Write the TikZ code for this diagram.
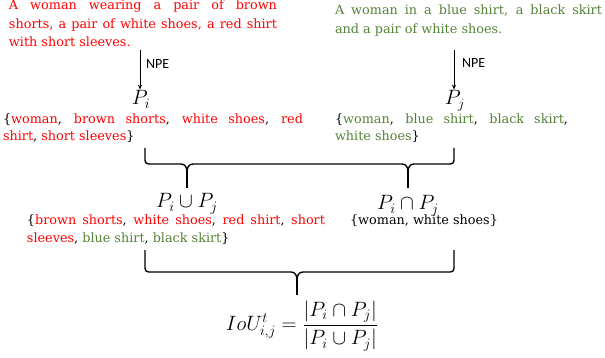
\documentclass[tikz,border=0pt]{standalone}
\usepackage{fontspec}
\setmainfont{DejaVu Serif}
\newfontfamily\npefont{Carlito}
\usetikzlibrary{arrows.meta}
\definecolor{capred}{RGB}{255,0,0}
\definecolor{capgreen}{RGB}{84,130,53}
\newcommand{\rd}[1]{\textcolor{capred}{#1}}
\newcommand{\gn}[1]{\textcolor{capgreen}{#1}}
\tikzset{
  txt/.style={inner sep=0pt, outer sep=0pt, font=\fontsize{12.8}{18.2}\selectfont},
  jtxt/.style={txt, align=justify, anchor=base west},
  settxt/.style={jtxt, font=\fontsize{12.8}{17.6}\selectfont},
  plabel/.style={inner sep=1pt, anchor=base, font=\fontsize{20}{24}\selectfont},
  npe/.style={inner sep=0pt, anchor=base west, font=\npefont\fontsize{14}{16}\selectfont},
  arr/.style={line width=0.9pt, -{Stealth[length=5pt,width=4pt]}},
  bracestroke/.style={line width=1.4pt, line cap=butt}
}
\begin{document}
\begin{tikzpicture}[x=1pt,y=-1pt]
\useasboundingbox (0,0) rectangle (605,358);

% captions
\node[jtxt, text width=268pt, text=capred] (capi) at (9,10)
  {A woman wearing a pair of brown\linebreak shorts, a pair of white shoes, a red shirt\linebreak with short sleeves.};
\node[jtxt, text width=267pt, text=capgreen] (capj) at (335,15)
  {A woman in a blue shirt, a black skirt\linebreak and a pair of white shoes.};

% P labels
\node[plabel] (pi) at (141,105) {$P_i$};
\node[plabel] (pj) at (455,105) {$P_j$};

% arrows
\coordinate (ai) at (140,50);
\coordinate (aj) at (454,50);
\draw[arr] (ai) -- (ai |- pi.north);
\draw[arr] (aj) -- (aj |- pj.north);
\node[npe] (npei) at (146,69) {NPE};
\node[npe] (npej) at (462,68) {NPE};

% sets
\node[settxt, text width=300pt] (seti) at (3,123.3)
  {\{\rd{woman}, \rd{brown shorts}, \rd{white shoes}, \rd{red}\linebreak \rd{shirt}, \rd{short sleeves}\}};
\node[settxt, text width=233pt] (setj) at (335,123.3)
  {\{\gn{woman}, \gn{blue shirt}, \gn{black skirt},\linebreak \gn{white shoes}\}};

% first brace
\coordinate (b1l) at (145,148);
\coordinate (b1r) at (454,148);
\coordinate (t1u) at (187,188);
\coordinate (t1n) at (408,188);
\draw[bracestroke] (b1l) -- (145,160.5) to[out=-90,in=180] (148.5,164) -- (181,164)
   .. controls (185.5,164) and (187,167.5) .. (187,173)
   .. controls (187,167.5) and (188.5,164) .. (193,164) -- (402,164)
   .. controls (406.5,164) and (408,167.5) .. (408,173)
   .. controls (408,167.5) and (409.5,164) .. (414,164) -- (450.5,164)
   to[out=0,in=-90] (454,160.5) -- (b1r);
\draw[bracestroke] (187,172) -- (t1u);
\draw[bracestroke] (408,172) -- (t1n);

% union / intersection
\node[plabel] (uni) at (187,208) {$P_i\cup P_j$};
\node[plabel] (int) at (408,210) {$P_i\cap P_j$};
\node[settxt, text width=298pt] (setu) at (27,225)
  {\{\rd{brown shorts}, \rd{white shoes}, \rd{red shirt}, \rd{short}\linebreak \rd{sleeves}, \gn{blue shirt}, \gn{black skirt}\}};
\node[txt, anchor=base] (setn) at (424,225) {\{woman, white shoes\}};

% second brace
\coordinate (b2l) at (145,250);
\coordinate (b2r) at (454,250);
\coordinate (t2) at (297,295);
\draw[bracestroke] (b2l) -- (145,268.5) to[out=-90,in=180] (148.5,272) -- (291,272)
   .. controls (295.5,272) and (297,275.5) .. (297,281)
   .. controls (297,275.5) and (298.5,272) .. (303,272) -- (450.5,272)
   to[out=0,in=-90] (454,268.5) -- (b2r);
\draw[bracestroke] (297,280) -- (t2);

% IoU
\node[inner sep=0pt, font=\fontsize{20}{24}\selectfont] (iou) at (302,326)
  {$\displaystyle IoU^t_{i,j}=\frac{\left|P_i\cap P_j\right|}{\left|P_i\cup P_j\right|}$};
\end{tikzpicture}
\end{document}
